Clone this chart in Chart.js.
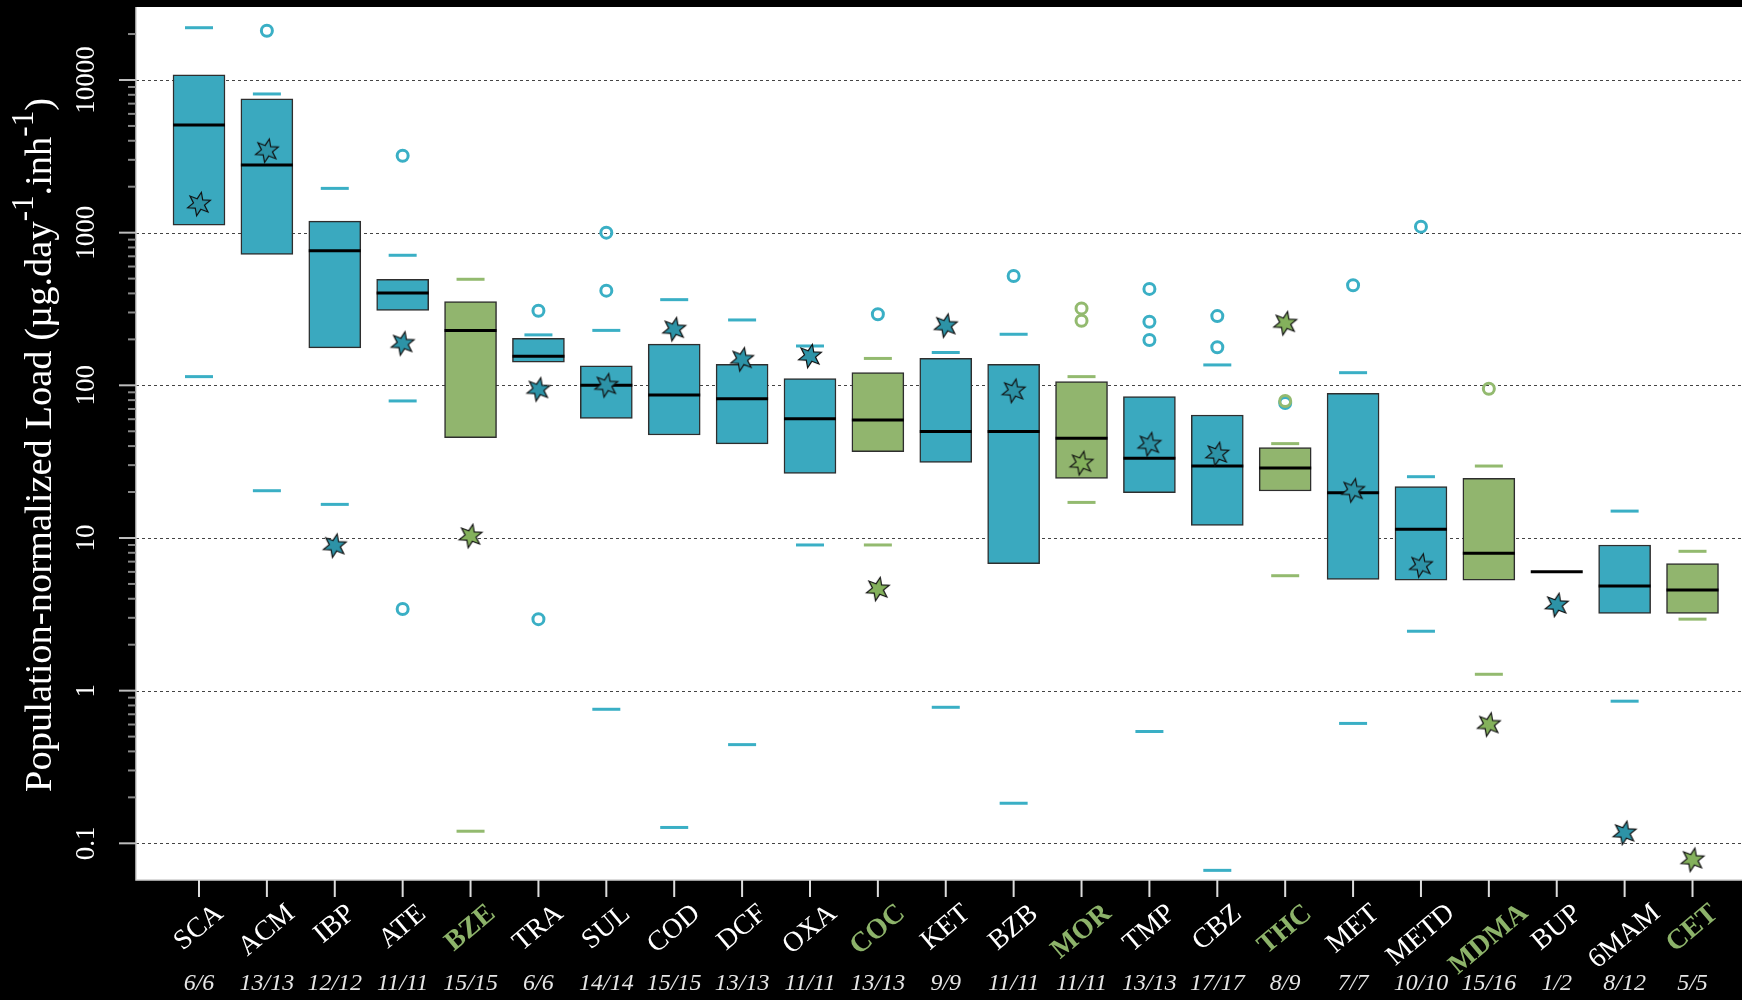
<!DOCTYPE html>
<html><head><meta charset="utf-8">
<script src="https://cdn.jsdelivr.net/npm/chart.js@4.4.1/dist/chart.umd.min.js"></script>
<style>html,body{margin:0;padding:0;background:#000;overflow:hidden}#wrap{width:1742px;height:1000px}</style>
</head><body><div id="wrap"><canvas id="c" width="1742" height="1000"></canvas></div>
<script>
// ---------------- DATA ----------------
const categories = ['SCA','ACM','IBP','ATE','BZE','TRA','SUL','COD','DCF','OXA','COC','KET','BZB','MOR','TMP','CBZ','THC','MET','METD','MDMA','BUP','6MAM','CET'];
const detected   = ['6/6','13/13','12/12','11/11','15/15','6/6','14/14','15/15','13/13','11/11','13/13','9/9','11/11','11/11','13/13','17/17','8/9','7/7','10/10','15/16','1/2','8/12','5/5'];
const greenCategories = ['BZE','COC','MOR','THC','MDMA','CET'];
const q1      = [1120, 721, 176, 310, 45.4, 141.6, 60.8, 47.3, 41.3, 26.5, 36.8, 31.3, 6.8, 24.6, 19.8, 12.1, 20.3, 5.36, 5.3, 5.3, null, 3.2, 3.2];
const q3      = [10800, 7520, 1190, 495, 353, 203, 134, 186, 137, 110.6, 121, 150, 137, 106, 84.4, 63.9, 39.1, 88.7, 21.7, 24.6, null, 9.0, 6.8];
const medians = [5070, 2775, 762, 403, 229, 155, 100, 86.5, 81.8, 60.5, 59.3, 49.8, 49.8, 45, 33.3, 29.6, 28.7, 19.8, 11.4, 7.94, 6.0, 4.84, 4.56];
const upperMarks = [22000, 8100, 1950, 711, 495, 214, 229, 364, 268, 181, 150, 164, 216, 114, null, 136, 41.5, 121, 25.2, 29.6, null, 15, 8.18];
const lowerMarks = [114, 20.4, 16.6, 79, 0.12, null, 0.755, 0.127, 0.443, 9.0, 9.0, 0.778, 0.183, 17.1, 0.54, 0.0665, 5.66, 0.61, 2.45, 1.28, null, 0.853, 2.94];
const starValues = [1540, 3440, 8.9, 188, 10.3, 94, 100, 233, 148, 155.6, 4.63, 246, 92, 30.9, 41.1, 35.5, 255, 20.5, 6.6, 0.60, 3.64, 0.117, 0.078];
const outliersTeal  = [[], [21000], [], [3190, 3.43], [], [308, 2.94], [1000, 417], [], [], [], [292], [], [520], [], [428, 261, 198], [284, 177.5], [76.5], [452], [1095], [], [], [], []];
const outliersGreen = [[], [], [], [], [], [], [], [], [], [], [], [], [], [319, 265], [], [], [79], [], [], [95], [], [], []];
const yTickLabels = ['10000', '1000', '100', '10', '1', '0.1'];
const yMin = 0.0575, yMax = 30070;

// ---------------- STYLE ----------------
const TEAL = '#3AA9BF', GREEN = '#91B56E';
const TEAL_MARK = '#3AAFC5', GREEN_MARK = '#93BA6F';
const TEAL_STAR = '#2D93A7', GREEN_STAR = '#84B15C';
const isGreen = i => greenCategories.includes(categories[i]);
const SERIF = '"Liberation Serif", "DejaVu Serif", serif';

function makeStar(fill) {
  const c = document.createElement('canvas');
  c.width = 30; c.height = 30;
  const g = c.getContext('2d');
  g.translate(15, 15);
  g.rotate(0.2);
  g.beginPath();
  for (let k = 0; k < 12; k++) {
    const r = k % 2 === 0 ? 12 : 5.6;
    const a = -Math.PI / 2 + k * Math.PI / 6;
    const px = r * Math.cos(a), py = r * Math.sin(a);
    k === 0 ? g.moveTo(px, py) : g.lineTo(px, py);
  }
  g.closePath();
  g.fillStyle = fill; g.fill();
  g.lineWidth = 1.2; g.strokeStyle = '#111'; g.stroke();
  return c;
}
const starTeal = makeStar(TEAL_STAR), starGreen = makeStar(GREEN_STAR);

// ---------------- DATASETS ----------------
const boxData = [], medData = [], markData = [], starData = [], outTData = [], outGData = [];
categories.forEach((c, i) => {
  if (q1[i] != null && q3[i] != null) boxData.push({x: i, y: [q1[i], q3[i]]});
  if (medians[i] != null) medData.push({x: i, y: medians[i]});
  if (upperMarks[i] != null) markData.push({x: i, y: upperMarks[i]});
  if (lowerMarks[i] != null) markData.push({x: i, y: lowerMarks[i]});
  if (starValues[i] != null) starData.push({x: i, y: starValues[i]});
  outliersTeal[i].forEach(v => outTData.push({x: i, y: v}));
  outliersGreen[i].forEach(v => outGData.push({x: i, y: v}));
});

const framePlugin = {
  id: 'frame',
  beforeDraw(chart) {
    const {ctx, chartArea: a} = chart;
    ctx.save();
    ctx.fillStyle = '#000'; ctx.fillRect(0, 0, chart.width, chart.height);
    ctx.fillStyle = '#fff'; ctx.fillRect(a.left, a.top, a.right - a.left, a.bottom - a.top);
    ctx.restore();
  },
  beforeDatasetsDraw(chart) {
    const {ctx, chartArea: a, scales: {x, y}} = chart;
    ctx.save();
    ctx.strokeStyle = '#444'; ctx.lineWidth = 1; ctx.setLineDash([3, 3]);
    yTickLabels.forEach(l => {
      const py = Math.round(y.getPixelForValue(Number(l))) + 0.5;
      ctx.beginPath(); ctx.moveTo(a.left, py); ctx.lineTo(a.right, py); ctx.stroke();
    });
    ctx.setLineDash([]);
    ctx.strokeStyle = '#cfcfcf'; ctx.lineWidth = 1.5;
    ctx.beginPath(); ctx.moveTo(a.left, a.top); ctx.lineTo(a.left, a.bottom); ctx.lineTo(a.right, a.bottom); ctx.stroke();
    for (let e = -1; e <= 4; e++) {
      for (let m = 1; m <= 9; m++) {
        const v = m * Math.pow(10, e);
        if (v > 20000 + 1) continue;
        const py = y.getPixelForValue(v);
        ctx.strokeStyle = m === 1 ? '#bdbdbd' : '#8a8a8a';
        ctx.lineWidth = 2;
        ctx.beginPath(); ctx.moveTo(a.left - (m === 1 ? 17 : 8), py); ctx.lineTo(a.left, py); ctx.stroke();
      }
    }
    ctx.strokeStyle = '#dcdcdc'; ctx.lineWidth = 2;
    categories.forEach((c, i) => {
      const px = x.getPixelForValue(i);
      ctx.beginPath(); ctx.moveTo(px, a.bottom); ctx.lineTo(px, a.bottom + 17); ctx.stroke();
    });
    ctx.restore();
  },
  afterDraw(chart) {
    const {ctx, chartArea: a, scales: {x, y}} = chart;
    ctx.save();
    ctx.fillStyle = '#fff'; ctx.font = '27px ' + SERIF;
    ctx.textAlign = 'center'; ctx.textBaseline = 'middle';
    yTickLabels.forEach(l => {
      const py = y.getPixelForValue(Number(l));
      ctx.save(); ctx.translate(87, py); ctx.rotate(-Math.PI / 2); ctx.fillText(l, 0, 0); ctx.restore();
    });
    ctx.save();
    ctx.translate(41, 445); ctx.rotate(-Math.PI / 2);
    const parts = [['Population-normalized Load (µg.day', 0], ['-1', 1], ['.inh', 0], ['-1', 1], [')', 0]];
    const fs = 38.5, sfs = 31;
    let total = 0;
    parts.forEach(p => { ctx.font = (p[1] ? sfs : fs) + 'px ' + SERIF; total += ctx.measureText(p[0]).width; });
    let cx = -total / 2;
    ctx.textAlign = 'left'; ctx.textBaseline = 'middle'; ctx.fillStyle = '#fff';
    parts.forEach(p => {
      ctx.font = (p[1] ? sfs : fs) + 'px ' + SERIF;
      ctx.fillText(p[0], cx, p[1] ? -16 : 0);
      cx += ctx.measureText(p[0]).width;
    });
    ctx.restore();
    categories.forEach((c, i) => {
      const px = x.getPixelForValue(i);
      const g = isGreen(i);
      ctx.font = (g ? 'bold ' : '') + '28px ' + SERIF;
      const w = ctx.measureText(c).width;
      ctx.save();
      ctx.translate(px, 927 + 0.3 * (w - 52));
      ctx.rotate(-40 * Math.PI / 180);
      ctx.fillStyle = g ? '#8DB36A' : '#ffffff';
      ctx.textAlign = 'center'; ctx.textBaseline = 'middle';
      ctx.fillText(c, 0, 0);
      ctx.restore();
      ctx.font = 'italic 24px ' + SERIF;
      ctx.fillStyle = '#e6e6e6'; ctx.textAlign = 'center'; ctx.textBaseline = 'middle';
      ctx.fillText(detected[i], px, 984);
    });
    ctx.restore();
  }
};

new Chart(document.getElementById('c'), {
  type: 'bar',
  data: {
    datasets: [
      {type: 'scatter', order: 0, data: starData,
        pointStyle: ctx => isGreen(ctx.raw.x) ? starGreen : starTeal, pointRadius: 12},
      {type: 'scatter', order: 1, data: outGData,
        pointStyle: 'circle', pointRadius: 5.5, pointBorderWidth: 3, pointBorderColor: GREEN_MARK, pointBackgroundColor: 'rgba(255,255,255,0)'},
      {type: 'scatter', order: 2, data: outTData,
        pointStyle: 'circle', pointRadius: 5.5, pointBorderWidth: 3, pointBorderColor: TEAL_MARK, pointBackgroundColor: 'rgba(255,255,255,0)'},
      {type: 'scatter', order: 3, data: medData,
        pointStyle: 'line', pointRadius: 26, pointBorderWidth: 3, pointBorderColor: '#000'},
      {type: 'scatter', order: 4, data: markData,
        pointStyle: 'line', pointRadius: 14, pointBorderWidth: 3,
        pointBorderColor: ctx => isGreen(ctx.raw.x) ? GREEN_MARK : TEAL_MARK},
      {type: 'bar', order: 5, data: boxData, barThickness: 52,
        backgroundColor: ctx => isGreen(ctx.raw.x) ? GREEN : TEAL,
        borderColor: '#2e2e2e', borderWidth: 1.5, borderSkipped: false}
    ]
  },
  options: {
    responsive: false, devicePixelRatio: 1, animation: false, events: [],
    layout: {autoPadding: false, padding: {left: 136, top: 7, right: 0, bottom: 120}},
    plugins: {legend: {display: false}, tooltip: {enabled: false}},
    scales: {
      x: {type: 'linear', display: false, offset: false, min: -0.928, max: 22.729, bounds: 'data', grid: {offset: false}},
      y: {type: 'logarithmic', display: false, min: yMin, max: yMax, bounds: 'data'}
    }
  },
  plugins: [framePlugin]
});
</script></body></html>
